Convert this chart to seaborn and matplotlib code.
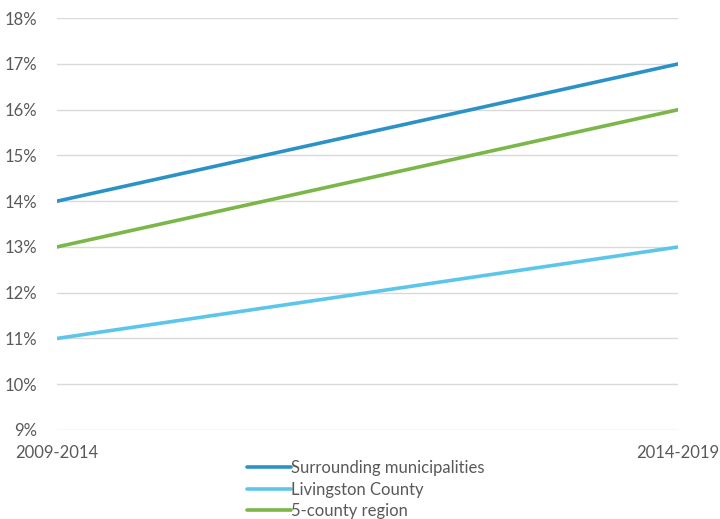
import numpy as np
import pandas as pd
import matplotlib.pyplot as plt
import seaborn as sns

# Data
periods = ["2009-2014", "2014-2019"]
surrounding = [14, 17]
livingston = [11, 13]
five_county = [13, 16]
series_names = ["Surrounding municipalities", "Livingston County", "5-county region"]
colors = ["#2a92c6", "#5cc6ea", "#7ab648"]

df = pd.DataFrame({
    "Period": periods * 3,
    "Value": surrounding + livingston + five_county,
    "Series": [series_names[0]] * 2 + [series_names[1]] * 2 + [series_names[2]] * 2,
})

sns.set_style("white")
plt.rcParams['font.family'] = ['Lato', 'DejaVu Sans']

fig = plt.figure(figsize=(7.2, 5.19), dpi=100)
ax = fig.add_axes([0.079, 0.1715, 0.863, 0.7935])

sns.lineplot(data=df, x="Period", y="Value", hue="Series",
             hue_order=series_names, palette=colors,
             linewidth=2.6, ax=ax, sort=False)

ax.set_ylim(9, 18)
ax.set_xlim(0, 1)
ax.set_yticks(range(9, 19))
ax.set_yticklabels([f"{v}%" for v in range(9, 19)])
ax.yaxis.grid(True, color="#d9d9d9", linewidth=1)
ax.set_axisbelow(True)
for s in ax.spines.values():
    s.set_visible(False)
ax.tick_params(axis="both", length=0, labelsize=12, colors="#595959")
ax.tick_params(axis="y", pad=14)
ax.tick_params(axis="x", pad=11)
ax.set_xlabel("")
ax.set_ylabel("")

ax.legend(loc="upper center", bbox_to_anchor=(0.497, -0.037), frameon=False,
          fontsize=12, handlelength=2.6, handletextpad=0.0,
          labelspacing=0.33, labelcolor="#595959")

plt.savefig("out.png", dpi=100)
